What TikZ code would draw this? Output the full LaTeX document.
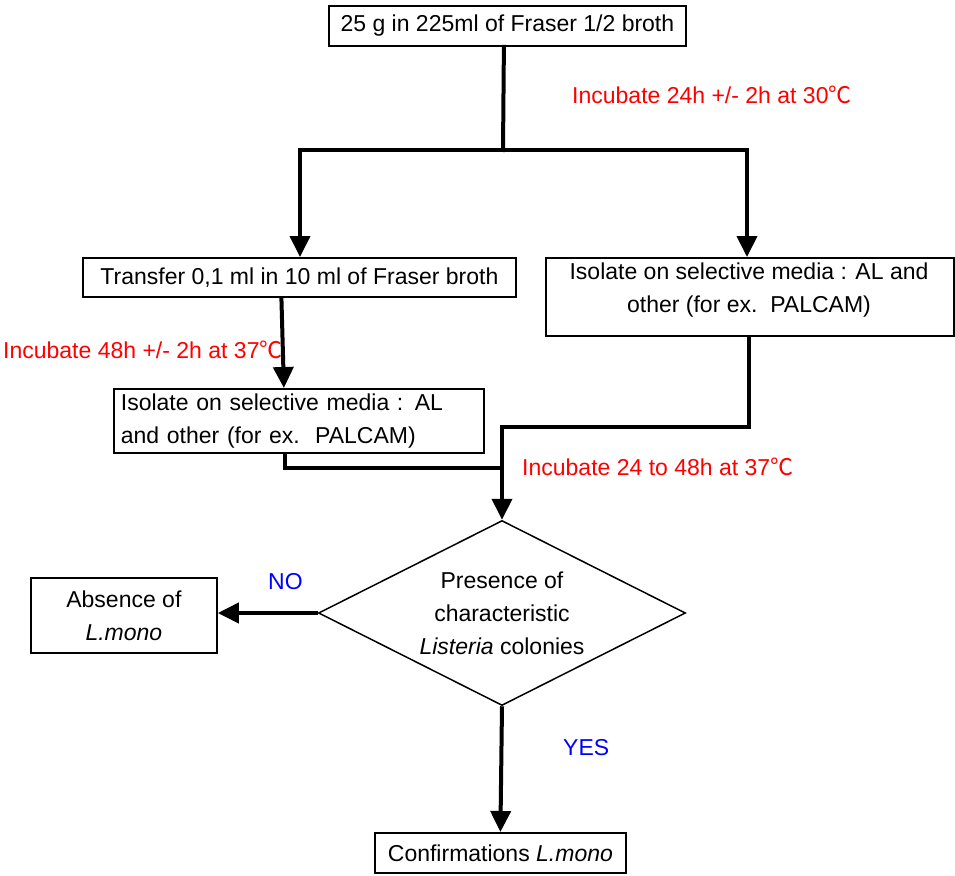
\documentclass[tikz,border=0pt]{standalone}
\usepackage{fontspec}
\setmainfont{Liberation Sans}
\newfontfamily\cjk{Noto Sans CJK SC}
\usetikzlibrary{arrows.meta,shapes.geometric,calc}
\newcommand{\degc}{{\cjk ℃}}
\begin{document}
\begin{tikzpicture}[x=1pt,y=-1pt,
  font=\fontsize{23}{33}\selectfont,
  box/.style={draw, line width=1.8pt, inner sep=0pt, anchor=north west},
  flow/.style={line width=4pt, line cap=rect},
  arr/.style={line width=4pt, -{Triangle[length=21pt,width=20pt]}},
  note/.style={anchor=west, inner sep=0pt, text=red},
  yn/.style={anchor=west, inner sep=0pt, text=blue}]
\useasboundingbox (0,0) rectangle (955,875);

% boxes
\node[box, minimum width=357pt, minimum height=40pt] (top) at (328,5) {25 g in 225ml of Fraser 1/2 broth};
\node[box, minimum width=433pt, minimum height=39pt] (transfer) at (82,257) {Transfer 0,1 ml in 10 ml of Fraser broth};
\node[box, minimum width=408pt, minimum height=78pt] (right) at (545,257) {};
\node[align=center, inner sep=0pt] (righttxt) at (749,290) {Isolate on selective media : AL and\\other (for ex.\ \ PALCAM)};
\node[box, minimum width=370pt, minimum height=64pt, text width=356pt, align=left] (leftiso) at (113,388) {Isolate on selective media : AL\\and other (for ex.\ \ PALCAM)};
\node[draw, diamond, line width=1.5pt, shape aspect=2, minimum width=367pt, minimum height=185pt, inner sep=0pt, align=center] (dec) at (502,613) {Presence of\\characteristic\\\textit{Listeria} colonies};
\node[box, minimum width=186pt, minimum height=75pt, align=center] (absence) at (30,577) {Absence of\\\textit{L.mono}};
\node[box, minimum width=251pt, minimum height=40pt] (confirm) at (374,832) {Confirmations \textit{L.mono}};

% labels
\node[note] (inc1) at (572,95) {Incubate 24h +/- 2h at 30\degc};
\node[note] (inc2) at (3,350) {Incubate 48h +/- 2h at 37\degc};
\node[note] (inc3) at (522,467) {Incubate 24 to 48h at 37\degc};
\node[yn] (no) at (268,582) {NO};
\node[yn] (yes) at (563,748) {YES};

% connectors
\coordinate (split) at (503,150);
\coordinate (sl) at (300,150);
\coordinate (sr) at (747,150);
\draw[flow] ([xshift=-3.5pt]top.south) -- (split);
\draw[arr] (split) -| (sl |- transfer.north);
\draw[arr] (split) -| (sr |- right.north);
\draw[arr] ([xshift=-18pt]transfer.south) -- ([xshift=-15pt]leftiso.north);
\coordinate (y468) at (0,468);
\coordinate (y427) at (0,427);
\coordinate (m1) at (dec.north |- y468);
\coordinate (m2) at (dec.north |- y427);
\draw[flow] ([xshift=-14pt]leftiso.south) |- (m1);
\draw[flow] ([xshift=-1pt]right.south) |- (m2);
\draw[arr] ([yshift=2pt]m2) -- (dec.north);
\draw[arr] (dec.west) -- (absence.east |- dec.west);
\draw[arr] (dec.south) -- (confirm.north);
\end{tikzpicture}
\end{document}
